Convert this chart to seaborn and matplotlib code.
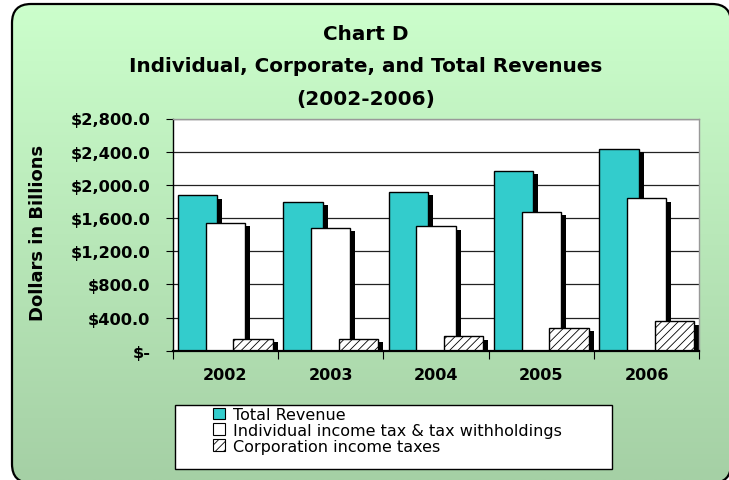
import numpy as np
import pandas as pd
import matplotlib
matplotlib.use("Agg")
import matplotlib.pyplot as plt
import matplotlib.patheffects as pe
from matplotlib.patches import FancyBboxPatch, Rectangle, Patch
import seaborn as sns

years = ["2002", "2003", "2004", "2005", "2006"]
total_revenue = [1872, 1793, 1913, 2165, 2436]
individual_tax = [1541, 1484, 1500, 1676, 1836]
corporation_tax = [140, 140, 173, 272, 353]
series = ["Total Revenue",
          "Individual income tax & tax withholdings",
          "Corporation income taxes"]
colors = ["#33CCCC", "white", "white"]

df = pd.DataFrame({
    "year": years * 3,
    "value": total_revenue + individual_tax + corporation_tax,
    "series": np.repeat(series, len(years)),
})

sns.set_theme(style="white")
plt.rcParams["font.family"] = ["DejaVu Sans"]
plt.rcParams["hatch.linewidth"] = 0.6
for k in ["text.color", "axes.labelcolor", "xtick.color", "ytick.color"]:
    plt.rcParams[k] = "black"

W, H = 729, 481
fig = plt.figure(figsize=(W / 100, H / 100), dpi=100)

# green gradient background with rounded border (pixel coords, y up)
bg = fig.add_axes([0, 0, 1, 1], zorder=-10)
bg.set_xlim(0, W)
bg.set_ylim(0, H)
bg.axis("off")
grad = np.linspace(0, 1, 256)[:, None, None]
top = np.array([204, 255, 204]) / 255
bot = np.array([165, 208, 165]) / 255
img = top + (bot - top) * grad
im = bg.imshow(img, extent=(0, W, 0, H), origin="upper", aspect="auto")
# nearly transparent face so the curved outline is not cut by Agg's path clipper
box = FancyBboxPatch((12, H - 484), 719, 479, boxstyle="round,pad=0,rounding_size=19",
                     fc=(1, 1, 1, 0.004), ec="black", lw=1.6, clip_on=False)
bg.add_patch(box)
im.set_clip_path(box)

# plot area
ax = fig.add_axes([172.7 / W, 1 - 351.7 / H, (699.3 - 172.7) / W, (351.7 - 119.5) / H])
sns.barplot(data=df, x="year", y="value", hue="series", palette=colors,
            saturation=1, edgecolor="black", linewidth=1.0, errorbar=None,
            legend=False, ax=ax)

shadow = [pe.SimplePatchShadow(offset=(3.6, -2.4), shadow_rgbFace="black", alpha=1.0),
          pe.Normal()]
for i, cont in enumerate(ax.containers):
    for j, bar in enumerate(cont):
        center = j + (i - 1) * 0.263
        bar.set_x(center - 0.1875)
        bar.set_width(0.375)
        bar.set_path_effects(shadow)
        if i == 2:
            bar.set_hatch("////")

ax.set_xlim(-0.5, 4.5)
ax.set_ylim(0, 2800)
yt = list(range(0, 2801, 400))
ax.set_yticks(yt)
ax.set_yticklabels(["$-" if v == 0 else f"${v:,.1f}" for v in yt],
                   fontweight="bold", fontsize=11.7)
ax.set_xticks(range(len(years)))
ax.set_xticklabels(years, fontweight="bold", fontsize=11.5)
ax.set_xticks(np.arange(-0.5, 5, 1), minor=True)
ax.tick_params(axis="y", left=True, length=5, width=0.8, color="black", pad=11)
ax.tick_params(axis="x", which="major", bottom=False, length=0, pad=12)
ax.tick_params(axis="x", which="minor", bottom=True, length=6, width=0.8,
               color="black", direction="out")
ax.set_xlabel("")
ax.set_ylabel("")
ax.yaxis.grid(True, color="#222222", lw=0.9)
ax.set_axisbelow(True)
ax.set_facecolor("white")
for s in ["top", "right"]:
    ax.spines[s].set_color("#999999")
    ax.spines[s].set_linewidth(1.0)
ax.spines["left"].set_color("black")
ax.spines["left"].set_linewidth(1.0)
ax.spines["bottom"].set_color("black")
ax.spines["bottom"].set_linewidth(1.6)

# titles
cx = 0.5 * (127 + 605) / W
fig.text(cx, 1 - 35 / H, "Chart D", ha="center", va="center",
         fontsize=14.4, fontweight="bold")
fig.text(cx, 1 - 67 / H, "Individual, Corporate, and Total Revenues",
         ha="center", va="center", fontsize=14.4, fontweight="bold")
fig.text(cx, 1 - 99 / H, "(2002-2006)", ha="center", va="center",
         fontsize=14.4, fontweight="bold")
fig.text(38 / W, 1 - 233 / H, "Dollars in Billions", rotation=90, ha="center",
         va="center", fontsize=13, fontweight="bold")

# legend
fig.add_artist(Rectangle((175 / W, 1 - 470 / H), (612 - 175) / W, (470 - 406) / H,
                         transform=fig.transFigure, fc="white", ec="black", lw=1.0))
handles = [Patch(fc=c, ec="black", lw=0.8, hatch=h)
           for c, h in zip(colors, [None, None, "////"])]
fig.legend(handles, series, loc="upper left", bbox_to_anchor=(213 / W, 1 - 408 / H),
           frameon=False, fontsize=11.5, handlelength=0.75, handleheight=0.75,
           handletextpad=0.5, labelspacing=0.05, borderpad=0, borderaxespad=0)

fig.savefig("out.png", dpi=100)
